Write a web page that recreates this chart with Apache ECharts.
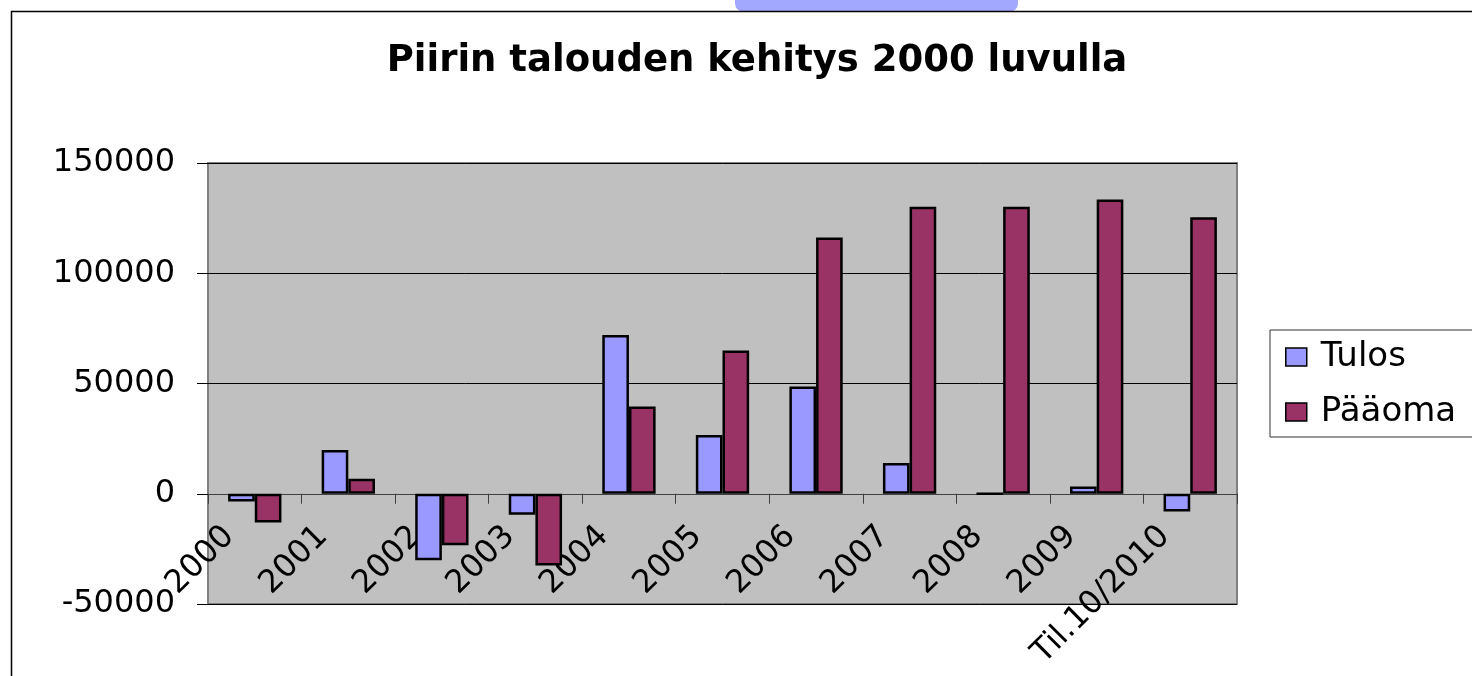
<!DOCTYPE html>
<html>
<head>
<meta charset="utf-8">
<script src="https://cdn.jsdelivr.net/npm/echarts@6/dist/echarts.min.js"></script>
<style>
  html, body { margin: 0; padding: 0; background: #fff; }
  #chart { width: 1472px; height: 676px; }
</style>
</head>
<body>
<div id="chart"></div>
<script>
// vuodet x-akselille
var categories = ['2000', '2001', '2002', '2003', '2004', '2005', '2006', '2007', '2008', '2009', 'Til.10/2010'];
// luettu kuvasta, arvioita
var tulos = [-3500, 19800, -30200, -9500, 72000, 26700, 48600, 13900, 0, 3300, -8000];
var paaoma = [-13000, 6800, -23400, -32500, 39600, 65000, 116200, 130200, 130200, 133500, 125400];
var yTicks = [-50000, 0, 50000, 100000, 150000];

var chart = echarts.init(document.getElementById('chart'));

var font = 'DejaVu Sans';

var option = {
  animation: false,
  textStyle: { fontFamily: font },
  title: {
    text: 'Piirin talouden kehitys 2000 luvulla',
    left: 752,
    top: 38,
    textAlign: 'center',
    textStyle: { fontFamily: font, fontSize: 37, fontWeight: 'bold', color: '#000' }
  },
  graphic: [
    // ylareunan sininen pala
    { type: 'rect', shape: { x: 735, y: -10, width: 283, height: 21.5, r: [0, 0, 8, 8] },
      style: { fill: '#a3a8ff' }, z: 0 },
    // kaavion ulkoraja
    { type: 'rect', shape: { x: 11.5, y: 11.5, width: 1520, height: 700 },
      style: { fill: 'none', stroke: '#000', lineWidth: 1.5 }, z: 0 }
  ],
  legend: {
    orient: 'vertical',
    left: 1270,
    top: 330,
    padding: [10, 40, 8, 15],
    itemGap: 21,
    itemWidth: 21,
    itemHeight: 18,
    icon: 'rect',
    backgroundColor: '#fff',
    borderColor: '#333',
    borderWidth: 1,
    itemStyle: { borderColor: '#000', borderWidth: 1.5 },
    textStyle: { fontFamily: font, fontSize: 34, color: '#000', padding: [0, 0, 0, 9] },
    data: ['Tulos', 'Pääoma']
  },
  grid: {
    left: 208,
    right: 235,
    top: 163,
    bottom: 72,
    outerBoundsMode: 'none',
    containLabel: false,
    show: true,
    backgroundColor: '#c0c0c0',
    borderColor: '#808080',
    borderWidth: 2
  },
  xAxis: {
    type: 'category',
    data: categories,
    axisLine: { onZero: true, lineStyle: { color: '#404040', width: 1 } },
    axisTick: { show: true, length: 10, lineStyle: { color: '#404040' } },
    axisLabel: {
      interval: 0,
      rotate: 45,
      margin: -98,
      padding: [0, 36, 0, 0],
      fontFamily: font,
      fontSize: 32,
      color: '#000'
    }
  },
  yAxis: {
    type: 'value',
    min: yTicks[0],
    max: yTicks[yTicks.length - 1],
    interval: 50000,
    axisLine: { show: false },
    axisTick: { show: true, length: 11, lineStyle: { color: '#000' } },
    splitLine: { show: true, lineStyle: { color: '#000', width: 1 } },
    axisLabel: {
      margin: 33,
      fontFamily: font,
      fontSize: 32,
      color: '#000',
      formatter: function (v) { return String(v); }
    }
  },
  series: [
    {
      name: 'Tulos',
      type: 'bar',
      data: tulos,
      barGap: '0%',
      barCategoryGap: '43%',
      itemStyle: { color: '#9999ff', borderColor: '#000', borderWidth: 2.5 }
    },
    {
      name: 'Pääoma',
      type: 'bar',
      data: paaoma,
      barGap: '0%',
      barCategoryGap: '43%',
      itemStyle: { color: '#993366', borderColor: '#000', borderWidth: 2.5 }
    }
  ]
};

chart.setOption(option);
</script>
</body>
</html>
